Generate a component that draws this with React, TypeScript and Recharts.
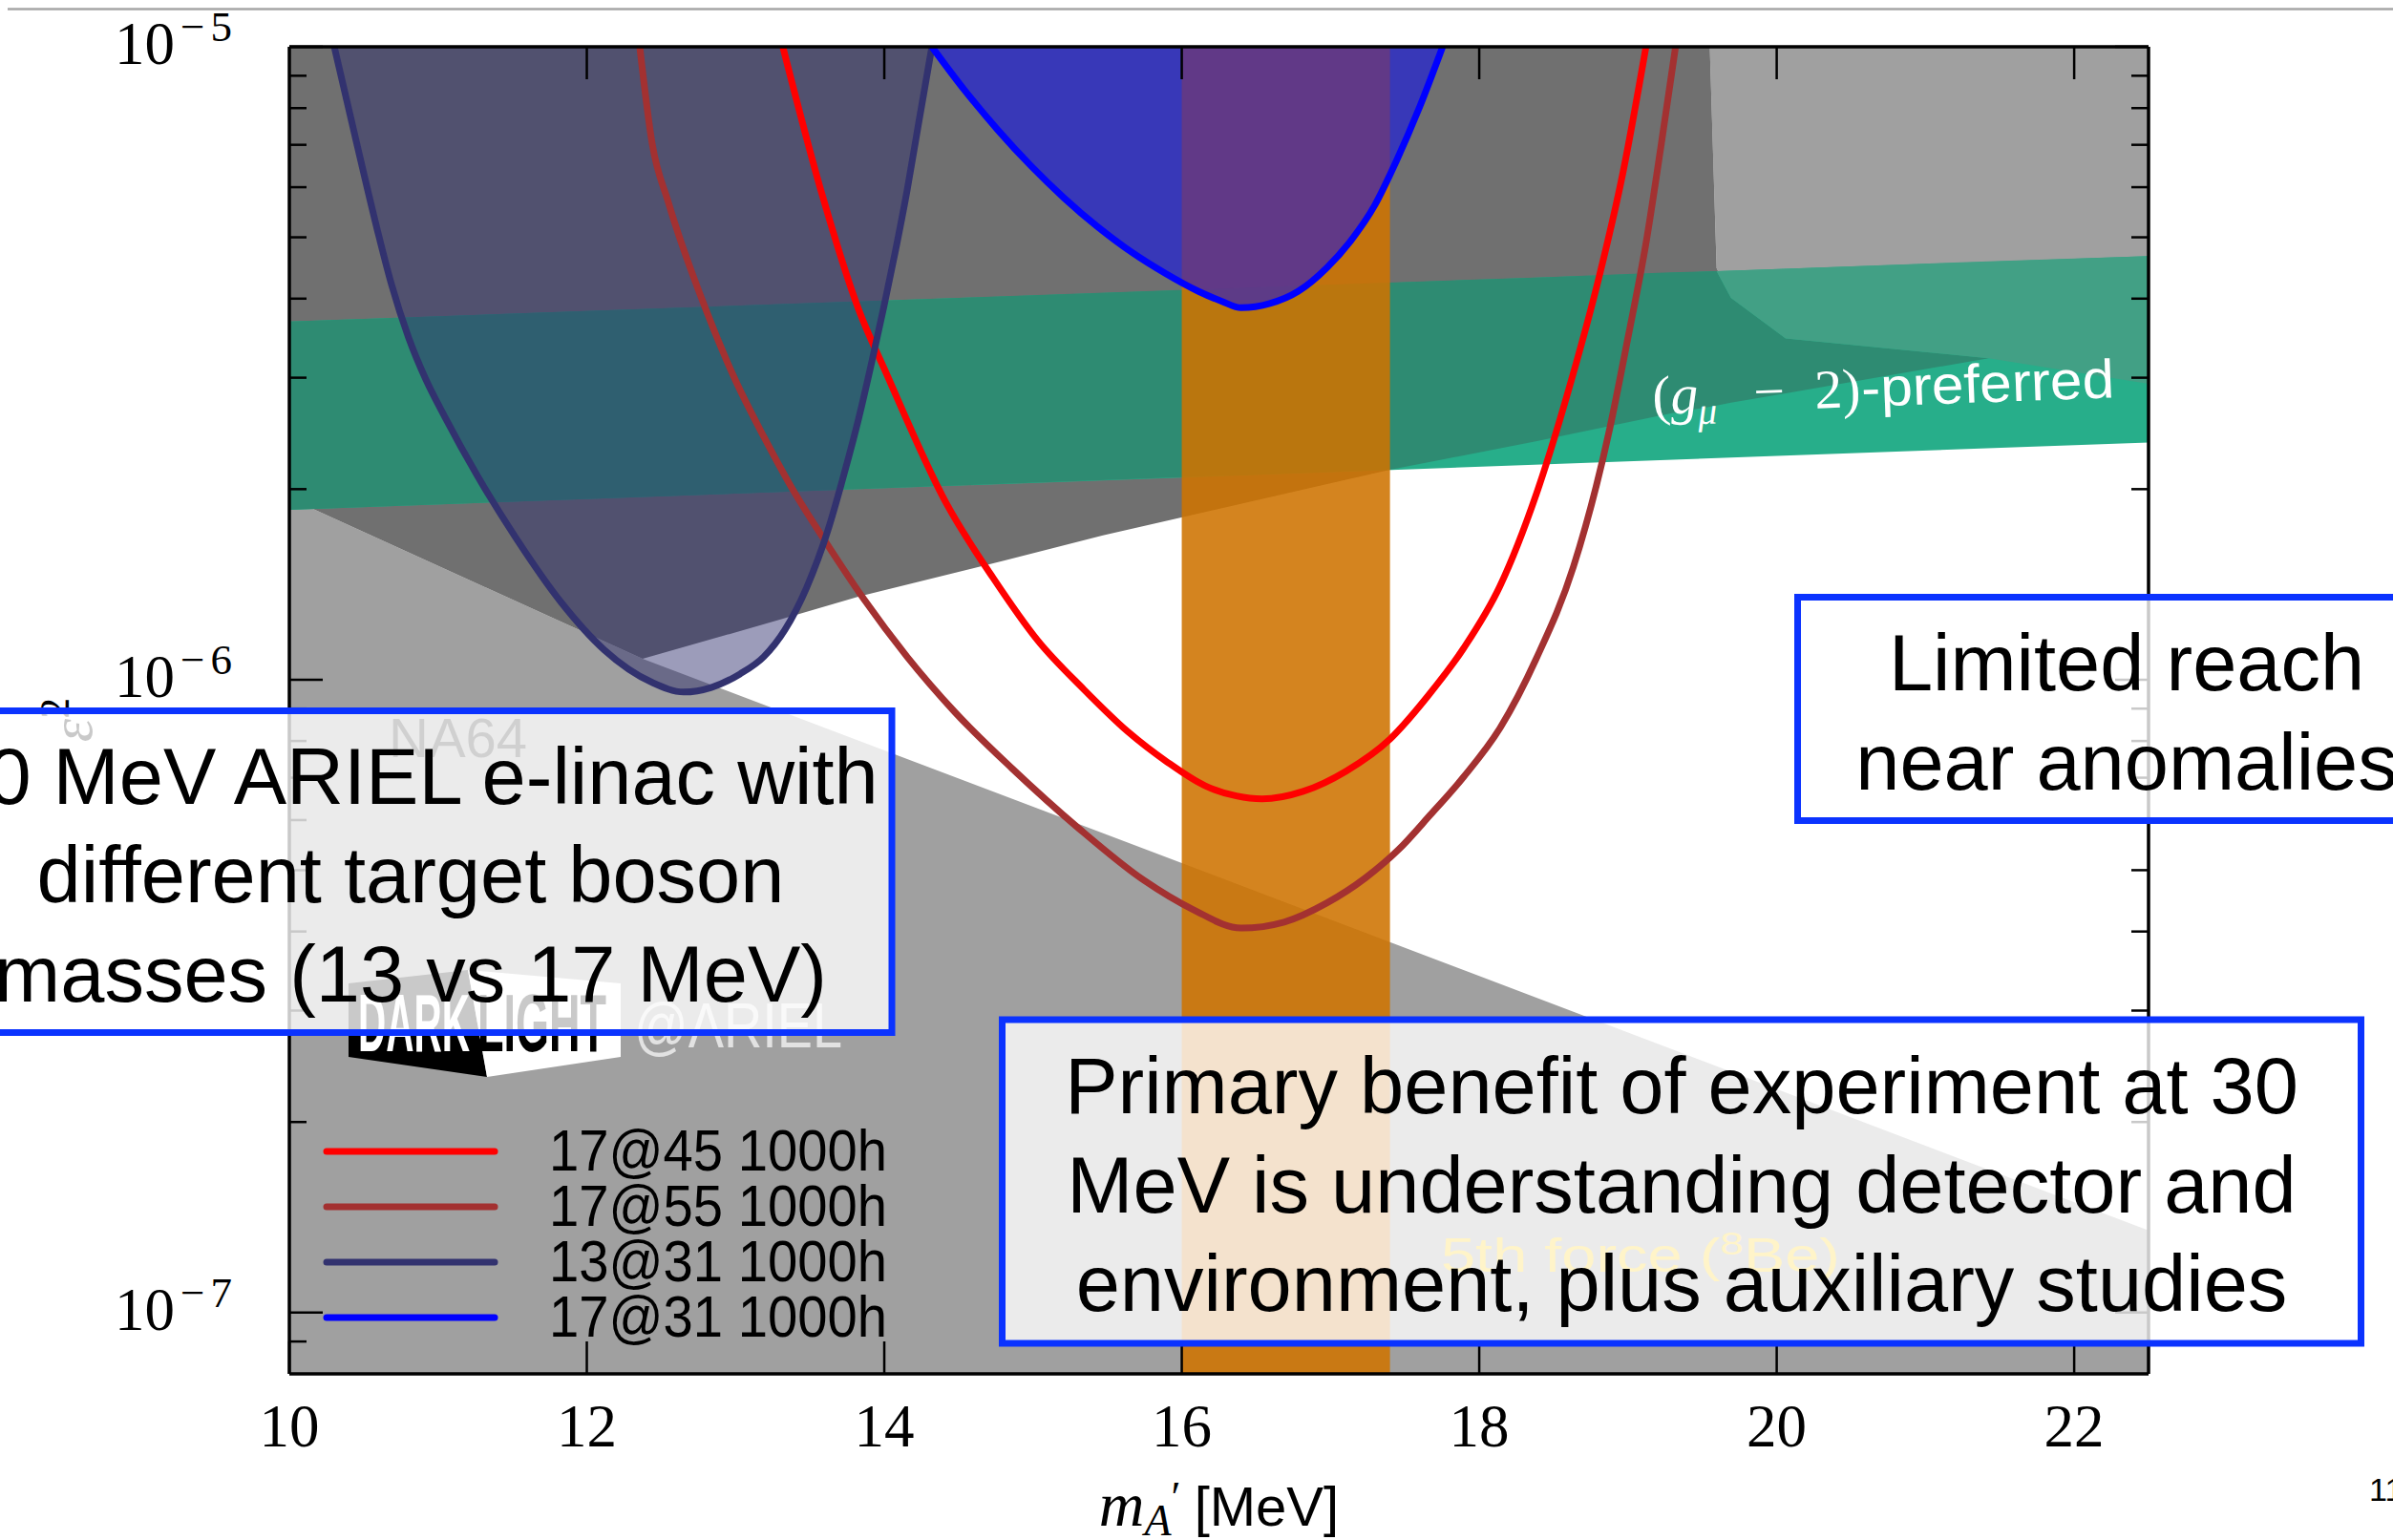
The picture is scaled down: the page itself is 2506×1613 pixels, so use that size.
import React from 'react';
import { ComposedChart, Area, Line, XAxis, YAxis, Legend } from 'recharts';

const W = 2506;
const H = 1613;
const X_DOMAIN: [number, number] = [10, 22.5];
const Y_MIN = 8e-8;
const Y_MAX = 1e-5;

// ---- axes ----
const xTicks = [10, 12, 14, 16, 18, 20, 22];
const topXTicks = [12, 14, 16, 18, 20, 22];
const yMajorTicks = [1e-5, 1e-6, 1e-7];
const yMajorExponents = ['−5', '−6', '−7'];
const yMinorTicks = [9e-8, 2e-7, 3e-7, 4e-7, 5e-7, 6e-7, 7e-7, 8e-7, 9e-7, 2e-6, 3e-6, 4e-6, 5e-6, 6e-6, 7e-6, 8e-6, 9e-6];

// ---- sensitivity curves (m_A' [MeV], eps^2) ----
const seriesNames = ['17@45 1000h', '17@55 1000h', '13@31 1000h', '17@31 1000h'];
const seriesColors = ['#ff0000', '#a33131', '#32326f', '#0000ff'];

const red45X = [13.318, 13.582, 13.832, 14.005, 14.416, 14.730, 15.032, 15.340, 15.642, 15.899, 16.155, 16.367, 16.540, 16.816, 17.105, 17.401, 17.651, 17.895, 18.139, 18.383, 18.626, 18.806, 18.967, 19.121];
const red45Y = [1e-5, 5.84e-6, 3.82e-6, 3.08e-6, 1.901e-6, 1.450e-6, 1.153e-6, 9.66e-7, 8.26e-7, 7.42e-7, 6.80e-7, 6.55e-7, 6.48e-7, 6.66e-7, 7.17e-7, 8.06e-7, 9.40e-7, 1.121e-6, 1.405e-6, 1.962e-6, 3.01e-6, 4.33e-6, 6.34e-6, 1e-5];

const brown55X = [12.356, 12.439, 12.548, 12.805, 12.997, 13.190, 13.383, 13.607, 13.864, 14.153, 14.474, 14.859, 15.308, 15.745, 16.078, 16.399, 16.688, 16.977, 17.234, 17.458, 17.670, 17.895, 18.139, 18.383, 18.633, 18.877, 18.999, 19.121, 19.223, 19.320];
const brown55Y = [1e-5, 7.04e-6, 5.68e-6, 3.82e-6, 2.98e-6, 2.42e-6, 2.00e-6, 1.649e-6, 1.339e-6, 1.087e-6, 8.89e-7, 7.24e-7, 5.82e-7, 4.82e-7, 4.33e-7, 4.05e-7, 4.14e-7, 4.44e-7, 4.86e-7, 5.39e-7, 6.11e-7, 7.02e-7, 8.38e-7, 1.079e-6, 1.507e-6, 2.49e-6, 3.46e-6, 4.89e-6, 6.99e-6, 1e-5];

const navy31X = [10.302, 10.456, 10.603, 10.687, 10.802, 10.918, 11.046, 11.264, 11.521, 11.823, 12.118, 12.439, 12.651, 12.837, 13.030, 13.190, 13.331, 13.479, 13.620, 13.729, 13.825, 13.915, 13.999, 14.076, 14.153, 14.230, 14.320];
const navy31Y = [1e-5, 6.99e-6, 5.01e-6, 4.21e-6, 3.47e-6, 2.98e-6, 2.60e-6, 2.10e-6, 1.678e-6, 1.329e-6, 1.114e-6, 9.90e-7, 9.56e-7, 9.72e-7, 1.021e-6, 1.087e-6, 1.198e-6, 1.400e-6, 1.719e-6, 2.11e-6, 2.57e-6, 3.17e-6, 3.90e-6, 4.77e-6, 5.92e-6, 7.55e-6, 1e-5];

const blue31X = [14.320, 14.538, 14.763, 14.987, 15.212, 15.436, 15.661, 15.886, 16.110, 16.271, 16.399, 16.592, 16.784, 16.977, 17.137, 17.298, 17.439, 17.600, 17.754];
const blue31Y = [1e-5, 8.55e-6, 7.39e-6, 6.48e-6, 5.76e-6, 5.19e-6, 4.74e-6, 4.39e-6, 4.11e-6, 3.96e-6, 3.87e-6, 3.93e-6, 4.11e-6, 4.48e-6, 4.94e-6, 5.62e-6, 6.57e-6, 8.04e-6, 1e-5];

// ---- excluded / preferred regions ----
const lowerGrayX = [10, 12.375, 17.619, 22.5];
const lowerGrayTop = [1.935e-6, 1.079e-6, 3.68e-7, 1.348e-7];

const darkGrayX = [10, 12.375, 13.325, 13.83, 14.81, 15.47, 17.40, 18.38, 19.287, 19.55, 19.596, 19.692, 20.06, 21.425];
const darkGrayLow = [1.935e-6, 1.079e-6, 1.249e-6, 1.353e-6, 1.543e-6, 1.690e-6, 2.147e-6, 2.38e-6, 2.635e-6, 2.70e-6, 2.71e-6, 2.74e-6, 2.835e-6, 3.22e-6];
const darkGrayHigh = [1e-5, 1e-5, 1e-5, 1e-5, 1e-5, 1e-5, 1e-5, 1e-5, 1e-5, 1e-5, 4.47e-6, 4.01e-6, 3.46e-6, 3.22e-6];

const upperGrayX = [19.55, 19.596, 19.692, 20.06, 21.425, 22.5];
const upperGrayLow = [1e-5, 4.47e-6, 4.01e-6, 3.46e-6, 3.22e-6, 2.935e-6];

const gm2X = [10, 22.5];
const gm2Low = [1.855e-6, 2.37e-6];
const gm2High = [3.68e-6, 4.67e-6];

const gm2DarkX = [10, 17.40, 18.38, 19.287, 19.596, 19.692, 20.06, 21.425];
const gm2DarkLow = [1.855e-6, 2.147e-6, 2.38e-6, 2.635e-6, 2.71e-6, 2.74e-6, 2.835e-6, 3.22e-6];
const gm2DarkHigh = [3.68e-6, 4.24e-6, 4.32e-6, 4.40e-6, 4.42e-6, 4.01e-6, 3.46e-6, 3.22e-6];

const gm2LightX = [19.596, 19.692, 20.06, 21.425, 22.5];
const gm2LightLow = [4.42e-6, 4.01e-6, 3.46e-6, 3.22e-6, 2.935e-6];
const gm2LightHigh = [4.42e-6, 4.43e-6, 4.46e-6, 4.58e-6, 4.67e-6];

const be8X = [16.0, 17.4];

// ---- builders ----
const pts = (xs: number[], ys: number[]) => xs.map((x, i) => ({ x, y: ys[i] }));
const rng = (xs: number[], lo: number[], hi: number[]) => xs.map((x, i) => ({ x, r: [lo[i], hi[i]] }));
const floorOf = (xs: number[]) => xs.map(() => Y_MIN);
const ceilOf = (xs: number[]) => xs.map(() => Y_MAX);

const curveX = [red45X, brown55X, navy31X, blue31X];
const curveY = [red45Y, brown55Y, navy31Y, blue31Y];

const SERIF = '"Liberation Serif", "DejaVu Serif", serif';
const SANS = '"Liberation Sans", Arial, sans-serif';

const LeftTick = (props: any) => {
  const { x, y, payload } = props;
  const idx = yMajorTicks.indexOf(payload.value);
  const major = idx >= 0;
  return (
    <g>
      <line x1={x} x2={x + (major ? 35 : 18)} y1={y} y2={y} stroke="#000" strokeWidth={2.5} />
      {major && (
        <text x={x - 60} y={y + 18} textAnchor="end" fontFamily={SERIF} fontSize={63} fill="#000">
          10
          <tspan dx={6} dy={-24} fontSize={45}>{yMajorExponents[idx].charAt(0)}</tspan>
          <tspan dx={6} fontSize={45}>{yMajorExponents[idx].slice(1)}</tspan>
        </text>
      )}
    </g>
  );
};

const RightTick = (props: any) => {
  const { x, y, payload } = props;
  const major = yMajorTicks.indexOf(payload.value) >= 0;
  return <line x1={x} x2={x - (major ? 35 : 18)} y1={y} y2={y} stroke="#000" strokeWidth={2.5} />;
};

const BottomTick = (props: any) => {
  const { x, y, payload } = props;
  return (
    <g>
      <line x1={x} x2={x} y1={y} y2={y - 34} stroke="#000" strokeWidth={2.5} />
      <text x={x} y={y + 76} textAnchor="middle" fontFamily={SERIF} fontSize={63} fill="#000">
        {String(payload.value)}
      </text>
    </g>
  );
};

const TopTick = (props: any) => {
  const { x, y } = props;
  return <line x1={x} x2={x} y1={y} y2={y + 34} stroke="#000" strokeWidth={2.5} />;
};

const XLabel = (props: any) => {
  const vb = props.viewBox || { x: 303, y: 1439, width: 1947, height: 174 };
  const cx = vb.x + vb.width / 2;
  return (
    <text x={cx} y={vb.y + 159} textAnchor="middle" fill="#000" fontSize={62}>
      <tspan fontFamily={SERIF} fontStyle="italic" fontSize={66}>m</tspan>
      <tspan fontFamily={SERIF} fontStyle="italic" fontSize={46} dy={10}>A</tspan>
      <tspan fontFamily={SERIF} fontSize={46} dy={-24}>′</tspan>
      <tspan fontFamily={SANS} fontSize={58} dy={14} dx={14}>[MeV]</tspan>
    </text>
  );
};

const YLabel = (props: any) => {
  const vb = props.viewBox || { x: 0, y: 49, width: 303, height: 1390 };
  return (
    <text transform={`translate(${vb.x + 96},${vb.y + 705}) rotate(-90)`} textAnchor="middle" fill="#000" fontFamily={SERIF} fontSize={62}>
      <tspan fontStyle="italic">ε</tspan>
      <tspan fontSize={44} dy={-24}>2</tspan>
    </text>
  );
};

const LegendContent = (props: any) => {
  const payload = (props.payload || []).filter((p: any) => seriesNames.indexOf(p.value) >= 0);
  const sorted = [...payload].sort((a: any, b: any) => seriesNames.indexOf(a.value) - seriesNames.indexOf(b.value));
  return (
    <svg width={330} height={240} style={{ overflow: 'visible', display: 'block' }}>
      {sorted.map((p: any, i: number) => {
        const yy = 36 + 58 * i;
        return (
          <g key={p.value}>
            <line x1={12} x2={188} y1={yy} y2={yy} stroke={p.color} strokeWidth={7} strokeLinecap="round" />
            <text x={245} y={yy + 20} fontFamily={SANS} fontSize={62} fill="#000" textLength={354} lengthAdjust="spacingAndGlyphs">
              {p.value}
            </text>
          </g>
        );
      })}
    </svg>
  );
};

const BOX_BLUE = '#0b33ff';

const Box = ({ x0, y0, x1, y1, cx, baselines, lines }: any) => (
  <g>
    <rect x={x0 + 3.5} y={y0 + 3.5} width={x1 - x0 - 7} height={y1 - y0 - 7} fill="#ffffff" fillOpacity={0.79} stroke={BOX_BLUE} strokeWidth={7} />
    {lines.map((t: string, i: number) => (
      <text key={i} x={cx} y={baselines[i]} textAnchor="middle" fontFamily={SANS} fontSize={83} fill="#000">
        {t}
      </text>
    ))}
  </g>
);

export default function App() {
  return (
    <div style={{ position: 'absolute', left: 0, top: 0, width: W, height: H, overflow: 'hidden', background: '#fff' }}>
      <ComposedChart width={W} height={H} margin={{ top: 20, right: 200, bottom: 0, left: 0 }}>
        <XAxis
          xAxisId={0}
          dataKey="x"
          type="number"
          domain={X_DOMAIN}
          allowDataOverflow
          ticks={xTicks}
          interval={0}
          height={174}
          tickSize={0}
          tickMargin={0}
          tick={BottomTick}
          axisLine={{ stroke: '#000', strokeWidth: 3.5 }}
          tickLine={false}
          label={XLabel}
        />
        <XAxis
          xAxisId="top"
          orientation="top"
          dataKey="x"
          type="number"
          domain={X_DOMAIN}
          allowDataOverflow
          ticks={topXTicks}
          interval={0}
          height={29}
          tickSize={0}
          tickMargin={0}
          tick={TopTick}
          axisLine={{ stroke: '#000', strokeWidth: 3.5 }}
          tickLine={false}
        />
        <YAxis
          yAxisId={0}
          type="number"
          scale="log"
          domain={[Y_MIN, Y_MAX]}
          allowDataOverflow
          ticks={[...yMajorTicks, ...yMinorTicks]}
          interval={0}
          width={303}
          tickSize={0}
          tickMargin={0}
          tick={LeftTick}
          axisLine={{ stroke: '#000', strokeWidth: 3.5 }}
          tickLine={false}
          label={YLabel}
        />
        <YAxis
          yAxisId="right"
          orientation="right"
          type="number"
          scale="log"
          domain={[Y_MIN, Y_MAX]}
          allowDataOverflow
          ticks={[...yMajorTicks, ...yMinorTicks]}
          interval={0}
          width={56}
          tickSize={0}
          tickMargin={0}
          tick={RightTick}
          axisLine={{ stroke: '#000', strokeWidth: 3.5 }}
          tickLine={false}
        />

        {/* excluded regions */}
        <Area data={rng(lowerGrayX, floorOf(lowerGrayX), lowerGrayTop)} dataKey="r" type="linear" fill="#a0a0a0" fillOpacity={1} stroke="none" legendType="none" isAnimationActive={false} />
        <Area data={rng(upperGrayX, upperGrayLow, ceilOf(upperGrayX))} dataKey="r" type="linear" fill="#a0a0a0" fillOpacity={1} stroke="none" legendType="none" isAnimationActive={false} />
        <Area data={rng(darkGrayX, darkGrayLow, darkGrayHigh)} dataKey="r" type="linear" fill="#707070" fillOpacity={1} stroke="none" legendType="none" isAnimationActive={false} />

        {/* (g-2) preferred band */}
        <Area data={rng(gm2X, gm2Low, gm2High)} dataKey="r" type="linear" fill="#27ae8a" fillOpacity={1} stroke="none" legendType="none" isAnimationActive={false} />
        <Area data={rng(gm2DarkX, gm2DarkLow, gm2DarkHigh)} dataKey="r" type="linear" fill="#2e8b72" fillOpacity={1} stroke="none" legendType="none" isAnimationActive={false} />
        <Area data={rng(gm2LightX, gm2LightLow, gm2LightHigh)} dataKey="r" type="linear" fill="#42a085" fillOpacity={1} stroke="none" legendType="none" isAnimationActive={false} />

        {/* 8Be anomaly band */}
        <Area data={rng(be8X, floorOf(be8X), ceilOf(be8X))} dataKey="r" type="linear" fill="#ce7300" fillOpacity={0.88} stroke="none" legendType="none" isAnimationActive={false} />

        {/* filled reach regions */}
        <Area data={rng(navy31X, navy31Y, ceilOf(navy31X))} dataKey="r" type="monotone" fill="#30306e" fillOpacity={0.48} stroke="none" legendType="none" isAnimationActive={false} />
        <Area data={rng(blue31X, blue31Y, ceilOf(blue31X))} dataKey="r" type="monotone" fill="#0000ff" fillOpacity={0.5} stroke="none" legendType="none" isAnimationActive={false} />

        {seriesNames.map((name, i) => (
          <Line
            key={name}
            name={name}
            data={pts(curveX[i], curveY[i])}
            dataKey="y"
            type="monotone"
            stroke={seriesColors[i]}
            strokeWidth={7}
            dot={false}
            activeDot={false}
            isAnimationActive={false}
          />
        ))}

        <Legend
          layout="vertical"
          align="center"
          verticalAlign="middle"
          content={LegendContent}
          wrapperStyle={{ left: 330, top: 1170, width: 330, height: 240, bottom: 'auto', right: 'auto' }}
        />
      </ComposedChart>

      <svg width={W} height={H} style={{ position: 'absolute', left: 0, top: 0, pointerEvents: 'none' }}>
        <line x1={8} x2={W} y1={9.5} y2={9.5} stroke="#a6a6a6" strokeWidth={2.5} />

        {/* (g-2) label */}
        <g transform="translate(1731,434) rotate(-2.1)">
          <text fill="#fff" fontFamily={SERIF} fontSize={58}>
            <tspan x={0} y={0}>(</tspan>
            <tspan x={19} y={0} fontStyle="italic">g</tspan>
            <tspan x={47} y={12} fontStyle="italic" fontSize={40}>μ</tspan>
            <tspan x={106} y={0}>−</tspan>
            <tspan x={170} y={0}>2</tspan>
            <tspan x={199} y={0}>)</tspan>
          </text>
          <text x={219} y={0} fill="#fff" fontFamily={SANS} fontSize={57} textLength={265} lengthAdjust="spacingAndGlyphs">-preferred</text>
        </g>

        {/* DarkLight logo */}
        <polygon points="365,1030 490,1016 510,1128 365,1107" fill="#000" />
        <polygon points="490,1016 650,1030 650,1107 510,1128" fill="#fff" />
        <text x={375} y={1101} fontFamily={SANS} fontWeight="bold" fontSize={86} fill="#fff" textLength={117} lengthAdjust="spacingAndGlyphs">DARK</text>
        <text x={500} y={1101} fontFamily={SANS} fontWeight="bold" fontSize={86} fill="#000" textLength={135} lengthAdjust="spacingAndGlyphs">LIGHT</text>
        <text x={664} y={1097} fontFamily={SANS} fontSize={66} fill="#e2e2e2" textLength={218} lengthAdjust="spacingAndGlyphs">@ARIEL</text>

        {/* region labels */}
        <text x={407} y={793} fontFamily={SANS} fontSize={58} fill="#222">NA64</text>
        <text x={1509} y={1332} fontFamily={SANS} fontSize={50} fill="#ffcc00" textLength={418} lengthAdjust="spacingAndGlyphs">
          5th force (<tspan dy={-18} fontSize={34}>8</tspan><tspan dy={18}>Be)</tspan>
        </text>

        {/* slide annotation boxes */}
        <Box x0={-77} y0={741} x1={937.5} y1={1085} cx={430} baselines={[841.5, 945, 1048.5]}
          lines={['30 MeV ARIEL e-linac with', 'different target boson', 'masses (13 vs 17 MeV)']} />
        <Box x0={1879} y0={622} x1={2575} y1={863} cx={2227} baselines={[723, 826.5]}
          lines={['Limited reach', 'near anomalies']} />
        <Box x0={1046} y0={1064.5} x1={2476} y1={1410.5} cx={1761} baselines={[1166, 1269.5, 1373]}
          lines={['Primary benefit of experiment at 30', 'MeV is understanding detector and', 'environment, plus auxiliary studies']} />

        <text x={2481} y={1572} fontFamily={SANS} fontSize={34} fill="#000">11</text>
      </svg>
    </div>
  );
}
